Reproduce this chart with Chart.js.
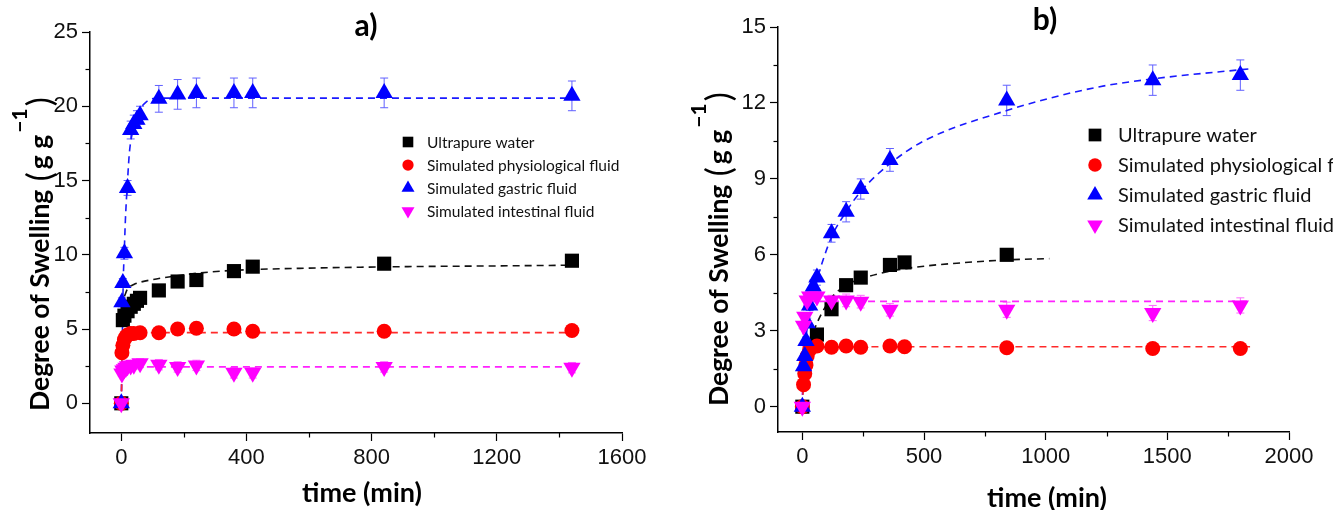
<!DOCTYPE html>
<html>
<head>
<meta charset="utf-8">
<script src="https://cdn.jsdelivr.net/npm/chart.js@4.4.1/dist/chart.umd.min.js"></script>
<style>
  body { margin: 0; background: #fff; }
  .wrap { position: relative; width: 1333px; height: 510px; overflow: hidden; }
  #chartA { position: absolute; left: 0; top: 0; }
  #chartB { position: absolute; left: 666px; top: 0; }
</style>
</head>
<body>
<div class="wrap">
  <canvas id="chartA" width="666" height="510"></canvas>
  <canvas id="chartB" width="667" height="510"></canvas>
</div>
<script>
const seriesNames = ['Ultrapure water', 'Simulated physiological fluid', 'Simulated gastric fluid', 'Simulated intestinal fluid'];

// ---- panel a) measured points (time in min, swelling in g/g) ----
const waterTimeA = [0, 5, 10, 20, 30, 40, 50, 60, 120, 180, 240, 360, 420, 840, 1440];
const waterA     = [0, 5.6, 5.9, 6.2, 6.5, 6.7, 6.9, 7.1, 7.6, 8.2, 8.3, 8.9, 9.2, 9.4, 9.6];
const physioTimeA = [0, 2, 5, 10, 15, 20, 30, 40, 60, 120, 180, 240, 360, 420, 840, 1440];
const physioA     = [0, 3.4, 3.9, 4.3, 4.5, 4.6, 4.7, 4.7, 4.75, 4.75, 5.0, 5.05, 5.0, 4.85, 4.85, 4.9];
const gastricTimeA = [0, 2, 5, 10, 20, 30, 40, 50, 60, 120, 180, 240, 360, 420, 840, 1440];
const gastricA     = [0, 6.8, 8.1, 10.1, 14.5, 18.4, 18.8, 19.1, 19.4, 20.5, 20.8, 20.9, 20.9, 20.9, 20.9, 20.7];
const gastricErrA  = [0, 0.3, 0.3, 0.4, 0.5, 0.6, 0.6, 0.6, 0.6, 0.9, 1.0, 1.0, 1.0, 1.0, 1.0, 1.0];
const intestTimeA = [0, 2, 5, 10, 15, 20, 30, 40, 60, 120, 180, 240, 360, 420, 840, 1440];
const intestA     = [0, 2.0, 2.2, 2.3, 2.4, 2.5, 2.55, 2.6, 2.7, 2.6, 2.45, 2.55, 2.05, 2.05, 2.45, 2.4];
const intestErrA  = [0, 0.2, 0.2, 0.25, 0.25, 0.25, 0.3, 0.3, 0.3, 0.35, 0.35, 0.35, 0.35, 0.35, 0.35, 0.35];

// panel a) fitted curves (read off the dashed lines)
const waterFitTimeA = [10, 20, 40, 60, 120, 240, 360, 600, 900, 1200, 1450];
const waterFitA     = [7.2, 7.7, 8.0, 8.15, 8.4, 8.75, 8.95, 9.1, 9.2, 9.25, 9.3];
const physioFitTimeA = [0, 3, 6, 10, 20, 1450];
const physioFitA     = [0, 3.4, 4.2, 4.6, 4.76, 4.76];
const gastricFitTimeA = [0, 3, 6, 10, 13, 20, 26, 40, 55, 80, 120, 1450];
const gastricFitA     = [0, 4, 8, 10.5, 12.3, 15, 16.9, 18.6, 19.6, 20.3, 20.55, 20.55];
const intestFitTimeA = [0, 2, 5, 10, 1450];
const intestFitA     = [0, 2.0, 2.4, 2.45, 2.45];

// ---- panel b) measured points ----
const waterTimeB = [0, 60, 120, 180, 240, 360, 420, 840];
const waterB     = [0, 2.85, 3.85, 4.8, 5.1, 5.6, 5.7, 6.0];
const physioTimeB = [0, 5, 10, 15, 20, 30, 60, 120, 180, 240, 360, 420, 840, 1440, 1800];
const physioB     = [0, 0.87, 1.3, 1.65, 2.0, 2.25, 2.4, 2.35, 2.4, 2.35, 2.4, 2.37, 2.33, 2.3, 2.3];
const gastricTimeB = [0, 5, 10, 15, 20, 30, 45, 60, 120, 180, 240, 360, 840, 1440, 1800];
const gastricB     = [0, 1.6, 2.0, 2.6, 3.3, 4.0, 4.75, 5.1, 6.85, 7.7, 8.6, 9.75, 12.1, 12.9, 13.1];
const gastricErrB  = [0, 0.1, 0.1, 0.15, 0.2, 0.2, 0.25, 0.3, 0.35, 0.4, 0.4, 0.45, 0.6, 0.6, 0.6];
const intestTimeB = [0, 5, 10, 20, 30, 60, 120, 180, 240, 360, 840, 1440, 1800];
const intestB     = [0, 3.2, 3.55, 4.2, 4.35, 4.35, 4.2, 4.2, 4.15, 3.83, 3.83, 3.7, 4.0];
const intestErrB  = [0, 0.15, 0.15, 0.2, 0.2, 0.2, 0.2, 0.25, 0.25, 0.25, 0.3, 0.3, 0.3];

// panel b) fitted curves
const waterFitTimeB = [30, 60, 120, 180, 240, 360, 500, 650, 840, 1015];
const waterFitB     = [2.5, 3.3, 4.3, 4.8, 5.05, 5.35, 5.55, 5.68, 5.8, 5.85];
const physioFitTimeB = [0, 5, 10, 20, 40, 60, 1840];
const physioFitB     = [0, 0.9, 1.4, 2.0, 2.3, 2.37, 2.37];
const gastricFitTimeB = [0, 5, 15, 30, 60, 120, 180, 240, 360, 500, 840, 1200, 1440, 1840];
const gastricFitB     = [0, 1.7, 2.7, 3.8, 5.0, 6.7, 7.7, 8.5, 9.6, 10.5, 11.7, 12.6, 12.95, 13.35];
const intestFitTimeB = [0, 3, 8, 15, 1840];
const intestFitB     = [0, 3.0, 4.0, 4.16, 4.16];

// axis ticks
const xTicksA = [0, 400, 800, 1200, 1600];
const xMinorA = [200, 600, 1000, 1400];
const yTicksA = [0, 5, 10, 15, 20, 25];
const yMinorA = [2.5, 7.5, 12.5, 17.5, 22.5];
const xTicksB = [0, 500, 1000, 1500, 2000];
const xMinorB = [250, 750, 1250, 1750];
const yTicksB = [0, 3, 6, 9, 12, 15];
const yMinorB = [1.5, 4.5, 7.5, 10.5, 13.5];

const colors = ['#000000', '#ff0000', '#0000ff', '#ff00ff'];
const fitColors = ['#111111', '#ff2a2a', '#1a1aff', '#ff22ff'];
const errColors = ['#555555', '#ff6666', '#6060ff', '#ff66ff'];
const styles = [
  { pointStyle: 'rect', radius: 10, rotation: 0 },
  { pointStyle: 'circle', radius: 7.5, rotation: 0 },
  { pointStyle: 'triangle', radius: 10, rotation: 0 },
  { pointStyle: 'triangle', radius: 10, rotation: 180 }
];

function pts(xs, ys) {
  return xs.map((x, i) => ({ x: x, y: ys[i] }));
}

function markers(i, xs, ys, errs) {
  return {
    label: seriesNames[i],
    data: pts(xs, ys),
    errors: errs || null,
    errorColor: errColors[i],
    showLine: false,
    pointStyle: styles[i].pointStyle,
    pointRadius: styles[i].radius,
    pointRotation: styles[i].rotation,
    pointBackgroundColor: colors[i],
    pointBorderWidth: 0,
    pointHoverRadius: styles[i].radius,
    inLegend: true,
    legendIndex: i,
    order: 4 - i
  };
}

function fit(i, xs, ys) {
  return {
    label: seriesNames[i] + ' fit',
    data: pts(xs, ys),
    showLine: true,
    borderColor: fitColors[i],
    borderWidth: 1.6,
    borderDash: [7, 5],
    pointRadius: 0,
    pointHoverRadius: 0,
    cubicInterpolationMode: 'monotone',
    order: 10
  };
}

const errorBars = {
  id: 'errorBars',
  beforeDatasetsDraw(chart) {
    const ctx = chart.ctx, xs = chart.scales.x, ys = chart.scales.y;
    ctx.save();
    chart.data.datasets.forEach(ds => {
      if (!ds.errors) return;
      ctx.strokeStyle = ds.errorColor;
      ctx.lineWidth = 1;
      ds.data.forEach((p, i) => {
        const e = ds.errors[i];
        if (!e) return;
        const px = xs.getPixelForValue(p.x);
        const top = ys.getPixelForValue(p.y + e);
        const bot = ys.getPixelForValue(p.y - e);
        ctx.beginPath();
        ctx.moveTo(px, top); ctx.lineTo(px, bot);
        ctx.moveTo(px - 4, top); ctx.lineTo(px + 4, top);
        ctx.moveTo(px - 4, bot); ctx.lineTo(px + 4, bot);
        ctx.stroke();
      });
    });
    ctx.restore();
  }
};

// y title: "Degree of Swelling (g g^-1)" with a raised exponent
function drawYTitle(ctx, t) {
  ctx.save();
  ctx.translate(t.x, t.y);
  ctx.rotate(-Math.PI / 2);
  ctx.fillStyle = '#000';
  ctx.textAlign = 'left';
  ctx.textBaseline = 'alphabetic';
  const parts = [
    { s: 'Degree of Swelling ', f: 'bold 26.5px Lato', dy: 0 },
    { s: '(', f: '34px Lato', dy: 3 },
    { s: 'g g', f: 'bold 26.5px Lato', dy: 0 },
    { s: '\u22121', f: 'bold 21px Lato', dy: -22 },
    { s: ')', f: '34px Lato', dy: 3 }
  ];
  let u = 0;
  parts.forEach(p => {
    ctx.font = p.f;
    ctx.fillText(p.s, u, p.dy);
    u += ctx.measureText(p.s).width + (p.s === '(' ? 3 : 2);
  });
  ctx.restore();
}

const extras = {
  id: 'extras',
  afterDraw(chart, args, opts) {
    const ctx = chart.ctx, area = chart.chartArea;
    const xs = chart.scales.x, ys = chart.scales.y;
    ctx.save();
    // minor ticks
    ctx.strokeStyle = '#000';
    ctx.lineWidth = 1.2;
    opts.xMinor.forEach(v => {
      const px = Math.round(xs.getPixelForValue(v)) + 0.5;
      ctx.beginPath(); ctx.moveTo(px, area.bottom); ctx.lineTo(px, area.bottom + 4.5); ctx.stroke();
    });
    opts.yMinor.forEach(v => {
      const py = Math.round(ys.getPixelForValue(v)) + 0.5;
      ctx.beginPath(); ctx.moveTo(area.left, py); ctx.lineTo(area.left - 4.5, py); ctx.stroke();
    });
    // panel letter and axis titles
    ctx.fillStyle = '#000';
    ctx.textAlign = 'center';
    ctx.textBaseline = 'middle';
    ctx.font = 'bold 30px Lato';
    ctx.fillText(opts.letter, opts.letterX, opts.letterY);
    ctx.font = 'bold 27px Lato';
    ctx.fillText('time (min)', opts.xTitleX, opts.xTitleY);
    drawYTitle(ctx, opts.yTitle);
    // legend
    const lg = opts.legend;
    ctx.font = lg.fontSize + 'px Lato';
    ctx.textAlign = 'left';
    chart.data.datasets.filter(d => d.inLegend).sort((a, b) => a.legendIndex - b.legendIndex).forEach((d, k) => {
      const y = lg.y + k * lg.step;
      ctx.fillStyle = colors[d.legendIndex];
      Chart.helpers.drawPoint(ctx, {
        pointStyle: styles[d.legendIndex].pointStyle,
        radius: styles[d.legendIndex].radius * lg.scale,
        rotation: styles[d.legendIndex].rotation,
        borderWidth: 0
      }, lg.markerX, y);
      ctx.fillStyle = '#111';
      ctx.fillText(d.label, lg.textX, y + 1);
    });
    ctx.restore();
  }
};

function axisCfg(min, max, ticks, width, height) {
  return {
    type: 'linear',
    min: min,
    max: max,
    afterBuildTicks: s => { s.ticks = ticks.map(v => ({ value: v })); },
    afterFit: s => {
      if (width) s.width = width;
      if (height) s.height = height;
    },
    border: { display: true, color: '#000', width: 1.5 },
    grid: { drawOnChartArea: false, drawTicks: true, tickLength: 8, tickWidth: 1.2, tickColor: '#000' },
    ticks: {
      color: '#111',
      padding: 4,
      font: { family: 'Liberation Sans', size: 22 },
      callback: v => String(v)
    },
    title: { display: false }
  };
}

function panel(id, cfg) {
  return new Chart(document.getElementById(id), {
    type: 'scatter',
    data: { datasets: cfg.datasets },
    plugins: [errorBars, extras],
    options: {
      responsive: false,
      animation: false,
      layout: { padding: { top: cfg.top, right: cfg.right, left: 0, bottom: 0 } },
      plugins: {
        legend: { display: false },
        tooltip: { enabled: false },
        extras: cfg.extras
      },
      scales: {
        x: axisCfg(cfg.xMin, cfg.xMax, cfg.xTicks, null, cfg.xHeight),
        y: axisCfg(cfg.yMin, cfg.yMax, cfg.yTicks, cfg.yWidth, null)
      }
    }
  });
}

panel('chartA', {
  datasets: [
    markers(0, waterTimeA, waterA),
    markers(1, physioTimeA, physioA),
    markers(2, gastricTimeA, gastricA, gastricErrA),
    markers(3, intestTimeA, intestA, intestErrA),
    fit(0, waterFitTimeA, waterFitA),
    fit(1, physioFitTimeA, physioFitA),
    fit(2, gastricFitTimeA, gastricFitA),
    fit(3, intestFitTimeA, intestFitA)
  ],
  top: 32, right: 44, xHeight: 77, yWidth: 90,
  xMin: -100, xMax: 1600, yMin: -2, yMax: 25,
  xTicks: xTicksA, yTicks: yTicksA,
  extras: {
    xMinor: xMinorA, yMinor: yMinorA,
    letter: 'a)', letterX: 366, letterY: 26,
    xTitleX: 362, xTitleY: 493,
    yTitle: { x: 49, y: 411 },
    legend: { markerX: 408, textX: 427, y: 142, step: 23, fontSize: 15.5, scale: 0.75 }
  }
});

panel('chartB', {
  datasets: [
    markers(0, waterTimeB, waterB),
    markers(1, physioTimeB, physioB),
    markers(2, gastricTimeB, gastricB, gastricErrB),
    markers(3, intestTimeB, intestB, intestErrB),
    fit(0, waterFitTimeB, waterFitB),
    fit(1, physioFitTimeB, physioFitB),
    fit(2, gastricFitTimeB, gastricFitB),
    fit(3, intestFitTimeB, intestFitB)
  ],
  top: 27, right: 44, xHeight: 78, yWidth: 112,
  xMin: -100, xMax: 2000, yMin: -1, yMax: 15,
  xTicks: xTicksB, yTicks: yTicksB,
  extras: {
    xMinor: xMinorB, yMinor: yMinorB,
    letter: 'b)', letterX: 379, letterY: 20,
    xTitleX: 381, xTitleY: 498,
    yTitle: { x: 62, y: 406 },
    legend: { markerX: 429, textX: 452, y: 135, step: 30, fontSize: 20, scale: 0.9 }
  }
});
</script>
</body>
</html>
